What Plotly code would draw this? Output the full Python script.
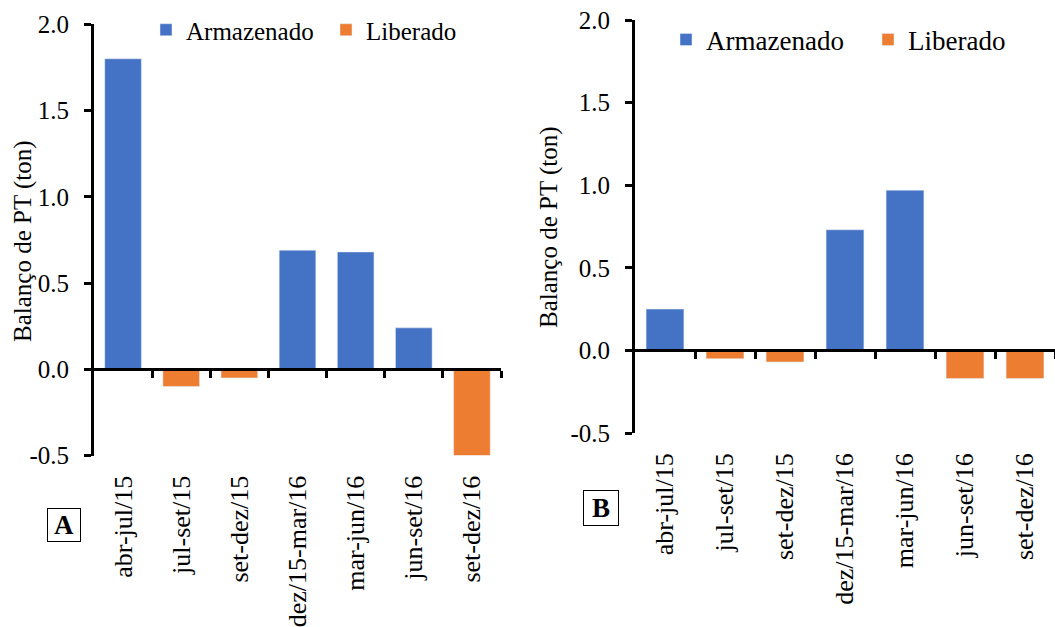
import plotly.graph_objects as go

# Periods (x categories), shared by both panels
periodos = ["abr-jul/15", "jul-set/15", "set-dez/15", "dez/15-mar/16",
            "mar-jun/16", "jun-set/16", "set-dez/16"]

# PT balance per period (ton): positive = stored, negative = released
balanco_A = [1.80, -0.10, -0.05, 0.69, 0.68, 0.24, -0.50]
balanco_B = [0.25, -0.05, -0.07, 0.73, 0.97, -0.17, -0.17]

y_ticks = [-0.5, 0.0, 0.5, 1.0, 1.5, 2.0]
y_tick_text = ["-0.5", "0.0", "0.5", "1.0", "1.5", "2.0"]
y_range = [-0.5, 2.0]

AZUL = "#4472C4"
LARANJA = "#ED7D31"
FONTE = "'Liberation Serif', 'Times New Roman', serif"
W, H = 1055, 627


def split(vals):
    arm = [v if v > 0 else None for v in vals]
    lib = [v if v < 0 else None for v in vals]
    return arm, lib


# plot areas in pixels (left, right, top, bottom)
areas = {
    "A": (94, 501, 24.3, 455.5),
    "B": (635, 1055, 20, 433),
}


def dom(area):
    l, r, t, b = area
    return [l / W, r / W], [1 - b / H, 1 - t / H]


fig = go.Figure()

# (panel, values, x axis, y axis, legend for stored, legend for released, zero axis)
panels = [("A", balanco_A, "x", "y", "legend", "legend3", "x3"),
          ("B", balanco_B, "x2", "y2", "legend2", "legend4", "x4")]

for name, vals, xa, ya, leg_a, leg_l, xz in panels:
    arm, lib = split(vals)
    fig.add_trace(go.Bar(x=periodos, y=arm, name="Armazenado", marker_color=AZUL,
                         xaxis=xa, yaxis=ya, legend=leg_a))
    fig.add_trace(go.Bar(x=periodos, y=lib, name="Liberado", marker_color=LARANJA,
                         xaxis=xa, yaxis=ya, legend=leg_l))
    # carrier for the zero-line axis with boundary ticks
    fig.add_trace(go.Scatter(x=[], y=[], xaxis=xz, yaxis=ya, showlegend=False,
                             hoverinfo="skip"))

layout = dict(
    width=W, height=H,
    margin=dict(l=0, r=0, t=0, b=0),
    paper_bgcolor="white", plot_bgcolor="white",
    barmode="relative",
    bargap=0.37,
    font=dict(family=FONTE, size=25, color="black"),
    showlegend=True,
)

for name, vals, xa, ya, leg_a, leg_l, xz in panels:
    xd, yd = dom(areas[name])
    xk = "xaxis" if xa == "x" else "xaxis2"
    yk = "yaxis" if ya == "y" else "yaxis2"
    layout[xk] = dict(
        domain=xd, anchor=ya, type="category", categoryarray=periodos,
        range=[-0.5, len(periodos) - 0.5],
        showline=False, ticks="", showgrid=False, zeroline=False,
        tickangle=-90, tickfont=dict(family=FONTE, size=26),
        ticklabelstandoff=14, automargin=False,
    )
    layout[yk] = dict(
        domain=yd, anchor=xa, range=y_range,
        tickvals=y_ticks, ticktext=y_tick_text,
        showline=True, linewidth=3, linecolor="black",
        ticks="outside", ticklen=7, tickwidth=3, tickcolor="black",
        showgrid=False, zeroline=False,
        tickfont=dict(family=FONTE, size=25),
        ticklabelstandoff=10, automargin=False,
    )
    # axis line drawn at y = 0 with ticks on category boundaries
    zero_pos = yd[0] + (0 - y_range[0]) / (y_range[1] - y_range[0]) * (yd[1] - yd[0])
    xzk = "xaxis3" if xz == "x3" else "xaxis4"
    layout[xzk] = dict(
        overlaying=xa, anchor="free", position=zero_pos, side="bottom",
        type="linear", range=[-0.5, len(periodos) - 0.5],
        tickvals=[i + 0.5 for i in range(len(periodos))],
        showticklabels=False, ticks="outside", ticklen=7, tickwidth=3,
        tickcolor="black", showline=True, linewidth=3, linecolor="black",
        showgrid=False, zeroline=False, automargin=False,
    )


def legenda(x_px, y_px, size):
    return dict(orientation="h", x=x_px / W, y=1 - y_px / H, xanchor="left",
                yanchor="middle", font=dict(family=FONTE, size=size),
                bgcolor="rgba(0,0,0,0)")


layout["legend"] = legenda(146, 30, 25)
layout["legend3"] = legenda(326, 30, 25)
layout["legend2"] = legenda(666, 40, 27)
layout["legend4"] = legenda(868, 40, 27)

annotations = []
# y-axis titles
for cx, cy in [(23, 241), (549, 227)]:
    annotations.append(dict(text="Balanço de PT (ton)", x=cx / W, y=1 - cy / H,
                            xref="paper", yref="paper", showarrow=False,
                            textangle=-90, font=dict(family=FONTE, size=25),
                            xanchor="center", yanchor="middle"))
# panel letters
for lbl, cx, cy, sz in [("A", 64, 525, 34), ("B", 601, 508, 36)]:
    annotations.append(dict(text="<b>" + lbl + "</b>", x=cx / W, y=1 - cy / H,
                            xref="paper", yref="paper", showarrow=False,
                            font=dict(family=FONTE, size=27),
                            bordercolor="black", borderwidth=1, borderpad=1,
                            width=sz - 4, height=sz - 4, bgcolor="white",
                            xanchor="center", yanchor="middle"))
layout["annotations"] = annotations

fig.update_layout(**layout)
fig.write_html("out.html")
